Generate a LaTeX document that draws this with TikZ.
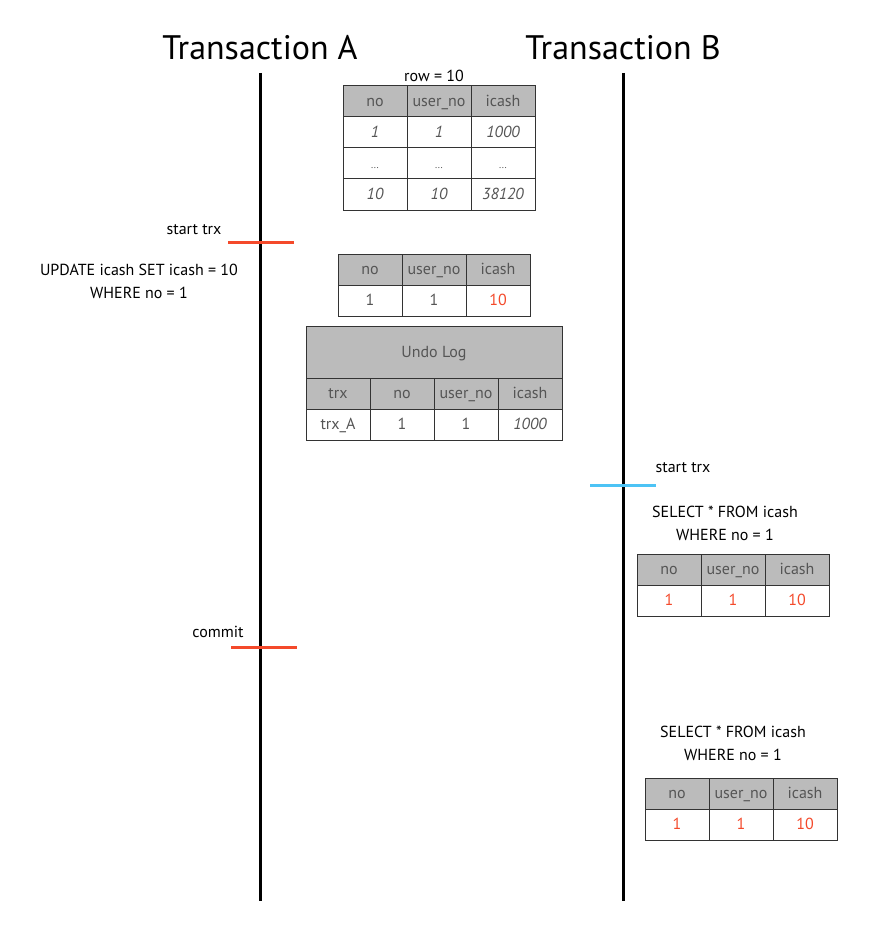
\documentclass[tikz,border=0pt]{standalone}
\usepackage{fontspec}
\setmainfont{PT Sans}
\definecolor{hdr}{HTML}{BBBBBB}
\definecolor{redx}{HTML}{F4492A}
\definecolor{bluex}{HTML}{4DC3F5}
\definecolor{celltxt}{HTML}{555555}
\definecolor{gridc}{HTML}{333333}
\tikzset{
  px/.style={x=1pt,y=-1pt},
  cellbase/.style={draw=gridc,line width=1pt,inner sep=0pt,outer sep=0pt,anchor=north west,
     minimum width=64pt,minimum height=31pt,text=celltxt,font=\fontsize{16}{18}\selectfont,
     text height=12.5pt,text depth=2.5pt},
  hcell/.style={cellbase,fill=hdr},
  dcell/.style={cellbase,fill=white},
  rcell/.style={dcell,text=redx},
  lbl/.style={font=\fontsize{16}{23}\selectfont,inner sep=0pt,align=center},
  title/.style={font=\fontsize{34}{38}\selectfont,inner sep=0pt},
  life/.style={line width=3pt,black},
  tickA/.style={line width=3pt,redx},
  tickB/.style={line width=3pt,bluex}
}
\begin{document}
\begin{tikzpicture}[px]
\useasboundingbox (0,0) rectangle (894,936);
% titles
\node[title] (ta) at (260,48) {Transaction A};
\node[title] (tb) at (623,48) {Transaction B};
% lifelines
\coordinate (a0) at (260,73); \coordinate (a1) at (260,901);
\coordinate (b0) at (623,73); \coordinate (b1) at (623,901);
\draw[life] (a0) -- (a1);
\draw[life] (b0) -- (b1);
% table 1
\node[lbl] (rowlbl) at (434,76) {row = 10};
\node[hcell] (t1h1) at (343,86) {no};
\node[hcell] (t1h2) at (407,86) {user\_no};
\node[hcell] (t1h3) at (471,86) {icash};
\node[dcell,font=\fontsize{16}{18}\selectfont\itshape] (t1a1) at (343,117) {1};
\node[dcell,font=\fontsize{16}{18}\selectfont\itshape] (t1a2) at (407,117) {1};
\node[dcell,font=\fontsize{16}{18}\selectfont\itshape] (t1a3) at (471,117) {1000};
\node[dcell,font=\fontsize{10}{12}\selectfont] (t1b1) at (343,148) {...};
\node[dcell,font=\fontsize{10}{12}\selectfont] (t1b2) at (407,148) {...};
\node[dcell,font=\fontsize{10}{12}\selectfont] (t1b3) at (471,148) {...};
\node[dcell,font=\fontsize{16}{18}\selectfont\itshape] (t1c1) at (343,179) {10};
\node[dcell,font=\fontsize{16}{18}\selectfont\itshape] (t1c2) at (407,179) {10};
\node[dcell,font=\fontsize{16}{18}\selectfont\itshape] (t1c3) at (471,179) {38120};
% start trx A
\node[lbl] (sta) at (194,230) {start trx};
\coordinate (sa0) at (228,242); \coordinate (sa1) at (294,242);
\draw[tickA] (sa0) -- (sa1);
\node[lbl] (upd) at (139,281) {UPDATE icash SET icash = 10\\WHERE no = 1};
% table 2
\node[hcell] (t2h1) at (338,254) {no};
\node[hcell] (t2h2) at (402,254) {user\_no};
\node[hcell] (t2h3) at (466,254) {icash};
\node[dcell] (t2a1) at (338,285) {1};
\node[dcell] (t2a2) at (402,285) {1};
\node[rcell] (t2a3) at (466,285) {10};
% undo log
\node[hcell,minimum width=256pt,minimum height=52pt] (ul) at (306,326) {Undo Log};
\node[hcell] (ulh1) at (306,378) {trx};
\node[hcell] (ulh2) at (370,378) {no};
\node[hcell] (ulh3) at (434,378) {user\_no};
\node[hcell] (ulh4) at (498,378) {icash};
\node[dcell] (ula1) at (306,409) {trx\_A};
\node[dcell] (ula2) at (370,409) {1};
\node[dcell] (ula3) at (434,409) {1};
\node[dcell,font=\fontsize{16}{18}\selectfont\itshape] (ula4) at (498,409) {1000};
% start trx B
\node[lbl] (stb) at (683,468) {start trx};
\coordinate (sb0) at (590,485); \coordinate (sb1) at (656,485);
\draw[tickB] (sb0) -- (sb1);
\node[lbl] (sel1) at (725,523) {SELECT * FROM icash\\WHERE no = 1};
% table 3
\node[hcell] (t3h1) at (637,554) {no};
\node[hcell] (t3h2) at (701,554) {user\_no};
\node[hcell] (t3h3) at (765,554) {icash};
\node[rcell] (t3a1) at (637,585) {1};
\node[rcell] (t3a2) at (701,585) {1};
\node[rcell] (t3a3) at (765,585) {10};
% commit
\node[lbl] (cmt) at (218,632) {commit};
\coordinate (ca0) at (231,647); \coordinate (ca1) at (297,647);
\draw[tickA] (ca0) -- (ca1);
\node[lbl] (sel2) at (733,743) {SELECT * FROM icash\\WHERE no = 1};
% table 4
\node[hcell] (t4h1) at (645,778) {no};
\node[hcell] (t4h2) at (709,778) {user\_no};
\node[hcell] (t4h3) at (773,778) {icash};
\node[rcell] (t4a1) at (645,809) {1};
\node[rcell] (t4a2) at (709,809) {1};
\node[rcell] (t4a3) at (773,809) {10};
\end{tikzpicture}
\end{document}
